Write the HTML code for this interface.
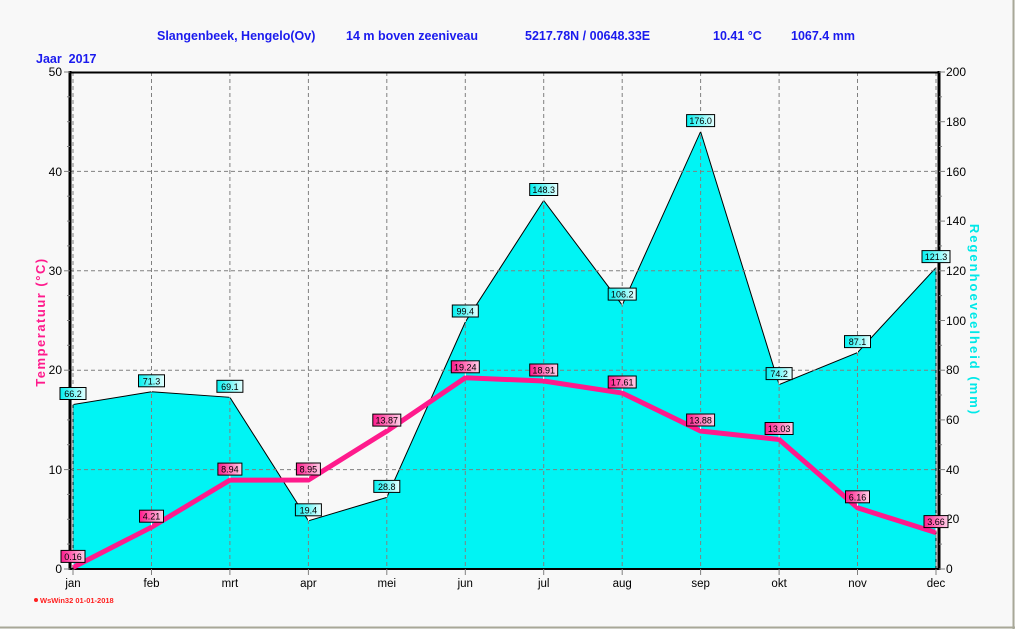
<!DOCTYPE html>
<html><head><meta charset="utf-8"><style>
html,body{margin:0;padding:0;background:#f8f8f8;}
svg{display:block;font-family:"Liberation Sans",Arial,sans-serif;}
</style></head><body>
<svg width="1015" height="629" viewBox="0 0 1015 629" xmlns="http://www.w3.org/2000/svg">
<defs>
<linearGradient id="gc" x1="0" x2="1"><stop offset="0" stop-color="#00f0f0"/><stop offset="1" stop-color="#e8ffff"/></linearGradient>
<linearGradient id="gp" x1="0" x2="1"><stop offset="0" stop-color="#ff1a8c"/><stop offset="1" stop-color="#ffd0e8"/></linearGradient>
</defs>
<rect x="0" y="0" width="1015" height="629" fill="#f8f8f8"/>
<line x1="0" y1="627.5" x2="1015" y2="627.5" stroke="#a8a898" stroke-width="2"/>
<line x1="1013.5" y1="0" x2="1013.5" y2="629" stroke="#a8a898" stroke-width="2"/>

<g fill="#1a1aee" font-weight="bold" font-size="12.5">
<text x="157" y="40">Slangenbeek, Hengelo(Ov)</text>
<text x="346" y="40">14 m boven zeeniveau</text>
<text x="525" y="40">5217.78N / 00648.33E</text>
<text x="713" y="40">10.41 °C</text>
<text x="791" y="40">1067.4 mm</text>
<text x="36" y="63" xml:space="preserve">Jaar  2017</text>
</g>

<polygon fill="#00f4f4" stroke="#000" stroke-width="1" points="73,569 73,404.5 151.5,391.8 229.9,397.3 308.4,520.8 386.8,497.4 465.3,322 543.7,200.5 622.2,305.1 700.6,131.6 779.1,384.6 857.5,352.6 936,267.6 936,569"/>

<g stroke="#808080" stroke-width="1" stroke-dasharray="4,3">
<line x1="73" y1="72" x2="73" y2="569"/><line x1="151.5" y1="72" x2="151.5" y2="569"/><line x1="229.9" y1="72" x2="229.9" y2="569"/><line x1="308.4" y1="72" x2="308.4" y2="569"/><line x1="386.8" y1="72" x2="386.8" y2="569"/><line x1="465.3" y1="72" x2="465.3" y2="569"/><line x1="543.7" y1="72" x2="543.7" y2="569"/><line x1="622.2" y1="72" x2="622.2" y2="569"/><line x1="700.6" y1="72" x2="700.6" y2="569"/><line x1="779.1" y1="72" x2="779.1" y2="569"/><line x1="857.5" y1="72" x2="857.5" y2="569"/><line x1="936" y1="72" x2="936" y2="569"/>
<line x1="70" y1="171.4" x2="939" y2="171.4"/><line x1="70" y1="270.8" x2="939" y2="270.8"/><line x1="70" y1="370.2" x2="939" y2="370.2"/><line x1="70" y1="469.6" x2="939" y2="469.6"/>
</g>
<line x1="69" y1="72.5" x2="940" y2="72.5" stroke="#000" stroke-width="2"/>
<line x1="69" y1="569" x2="940" y2="569" stroke="#000" stroke-width="2"/>
<line x1="70" y1="71" x2="70" y2="570" stroke="#000" stroke-width="3"/>
<line x1="939" y1="71" x2="939" y2="570" stroke="#000" stroke-width="3"/>

<g stroke="#808080" stroke-width="1">
<line x1="64" y1="72" x2="70" y2="72"/><line x1="64" y1="171.4" x2="70" y2="171.4"/><line x1="64" y1="270.8" x2="70" y2="270.8"/><line x1="64" y1="370.2" x2="70" y2="370.2"/><line x1="64" y1="469.6" x2="70" y2="469.6"/><line x1="64" y1="569" x2="70" y2="569"/>
<line x1="67" y1="96.8" x2="70" y2="96.8"/><line x1="67" y1="121.7" x2="70" y2="121.7"/><line x1="67" y1="146.5" x2="70" y2="146.5"/>
<line x1="67" y1="196.2" x2="70" y2="196.2"/><line x1="67" y1="221.1" x2="70" y2="221.1"/><line x1="67" y1="245.9" x2="70" y2="245.9"/>
<line x1="67" y1="295.6" x2="70" y2="295.6"/><line x1="67" y1="320.5" x2="70" y2="320.5"/><line x1="67" y1="345.3" x2="70" y2="345.3"/>
<line x1="67" y1="395" x2="70" y2="395"/><line x1="67" y1="419.9" x2="70" y2="419.9"/><line x1="67" y1="444.7" x2="70" y2="444.7"/>
<line x1="67" y1="494.4" x2="70" y2="494.4"/><line x1="67" y1="519.3" x2="70" y2="519.3"/><line x1="67" y1="544.1" x2="70" y2="544.1"/>
<line x1="939" y1="72" x2="945" y2="72"/><line x1="939" y1="121.7" x2="945" y2="121.7"/><line x1="939" y1="171.4" x2="945" y2="171.4"/><line x1="939" y1="221.1" x2="945" y2="221.1"/><line x1="939" y1="270.8" x2="945" y2="270.8"/><line x1="939" y1="320.5" x2="945" y2="320.5"/><line x1="939" y1="370.2" x2="945" y2="370.2"/><line x1="939" y1="419.9" x2="945" y2="419.9"/><line x1="939" y1="469.6" x2="945" y2="469.6"/><line x1="939" y1="519.3" x2="945" y2="519.3"/><line x1="939" y1="569" x2="945" y2="569"/>
<line x1="939" y1="96.8" x2="942" y2="96.8"/><line x1="939" y1="146.5" x2="942" y2="146.5"/><line x1="939" y1="196.2" x2="942" y2="196.2"/><line x1="939" y1="245.9" x2="942" y2="245.9"/><line x1="939" y1="295.6" x2="942" y2="295.6"/><line x1="939" y1="345.3" x2="942" y2="345.3"/><line x1="939" y1="395" x2="942" y2="395"/><line x1="939" y1="444.7" x2="942" y2="444.7"/><line x1="939" y1="494.4" x2="942" y2="494.4"/><line x1="939" y1="544.1" x2="942" y2="544.1"/>
<line x1="73" y1="569" x2="73" y2="575"/><line x1="151.5" y1="569" x2="151.5" y2="575"/><line x1="229.9" y1="569" x2="229.9" y2="575"/><line x1="308.4" y1="569" x2="308.4" y2="575"/><line x1="386.8" y1="569" x2="386.8" y2="575"/><line x1="465.3" y1="569" x2="465.3" y2="575"/><line x1="543.7" y1="569" x2="543.7" y2="575"/><line x1="622.2" y1="569" x2="622.2" y2="575"/><line x1="700.6" y1="569" x2="700.6" y2="575"/><line x1="779.1" y1="569" x2="779.1" y2="575"/><line x1="857.5" y1="569" x2="857.5" y2="575"/><line x1="936" y1="569" x2="936" y2="575"/>
</g>

<g font-size="12" fill="#000" text-anchor="end">
<text x="62" y="76">50</text><text x="62" y="176">40</text><text x="62" y="275">30</text><text x="62" y="374">20</text><text x="62" y="474">10</text><text x="62" y="573">0</text>
</g>
<g font-size="12" fill="#000">
<text x="946" y="76">200</text><text x="946" y="126">180</text><text x="946" y="176">160</text><text x="946" y="225">140</text><text x="946" y="275">120</text><text x="946" y="325">100</text><text x="946" y="374">80</text><text x="946" y="424">60</text><text x="946" y="474">40</text><text x="946" y="523">20</text><text x="946" y="573">0</text>
</g>
<g font-size="11.5" fill="#000" text-anchor="middle">
<text x="73" y="587">jan</text><text x="151.5" y="587">feb</text><text x="229.9" y="587">mrt</text><text x="308.4" y="587">apr</text><text x="386.8" y="587">mei</text><text x="465.3" y="587">jun</text><text x="543.7" y="587">jul</text><text x="622.2" y="587">aug</text><text x="700.6" y="587">sep</text><text x="779.1" y="587">okt</text><text x="857.5" y="587">nov</text><text x="936" y="587">dec</text>
</g>

<text transform="translate(45,322) rotate(-90)" text-anchor="middle" font-size="13" font-weight="bold" fill="#ff1a8c" letter-spacing="1.5">Temperatuur  (°C)</text>
<text transform="translate(970,320) rotate(90)" text-anchor="middle" font-size="13" font-weight="bold" fill="#00e8e8" letter-spacing="2">Regenhoeveelheid  (mm)</text>

<circle cx="36" cy="600" r="2" fill="#ff2020"/>
<text x="40" y="603" font-size="7.5" fill="#ff2020" font-weight="bold">WsWin32  01-01-2018</text>

<polyline fill="none" stroke="#ff1a8c" stroke-width="5" stroke-linejoin="miter" points="73,567.4 151.5,527.2 229.9,480.1 308.4,480 386.8,431.1 465.3,377.8 543.7,381 622.2,393 700.6,431 779.1,439.5 857.5,507.8 936,532.6"/>

<g font-size="9" text-anchor="middle" fill="#000">
<g transform="translate(73,404.5)"><line x1="0" y1="-6" x2="0" y2="0" stroke="#fff"/><rect x="-13" y="-17" width="26" height="12" fill="url(#gc)" stroke="#000"/><text x="0" y="-7.5">66.2</text></g>
<g transform="translate(151.5,391.8)"><line x1="0" y1="-6" x2="0" y2="0" stroke="#fff"/><rect x="-13" y="-17" width="26" height="12" fill="url(#gc)" stroke="#000"/><text x="0" y="-7.5">71.3</text></g>
<g transform="translate(229.9,397.3)"><line x1="0" y1="-6" x2="0" y2="0" stroke="#fff"/><rect x="-13" y="-17" width="26" height="12" fill="url(#gc)" stroke="#000"/><text x="0" y="-7.5">69.1</text></g>
<g transform="translate(308.4,520.8)"><line x1="0" y1="-6" x2="0" y2="0" stroke="#fff"/><rect x="-13" y="-17" width="26" height="12" fill="url(#gc)" stroke="#000"/><text x="0" y="-7.5">19.4</text></g>
<g transform="translate(386.8,497.4)"><line x1="0" y1="-6" x2="0" y2="0" stroke="#fff"/><rect x="-13" y="-17" width="26" height="12" fill="url(#gc)" stroke="#000"/><text x="0" y="-7.5">28.8</text></g>
<g transform="translate(465.3,322)"><line x1="0" y1="-6" x2="0" y2="0" stroke="#fff"/><rect x="-13" y="-17" width="26" height="12" fill="url(#gc)" stroke="#000"/><text x="0" y="-7.5">99.4</text></g>
<g transform="translate(543.7,200.5)"><line x1="0" y1="-6" x2="0" y2="0" stroke="#fff"/><rect x="-14" y="-17" width="28" height="12" fill="url(#gc)" stroke="#000"/><text x="0" y="-7.5">148.3</text></g>
<g transform="translate(622.2,305.1)"><line x1="0" y1="-6" x2="0" y2="0" stroke="#fff"/><rect x="-14" y="-17" width="28" height="12" fill="url(#gc)" stroke="#000"/><text x="0" y="-7.5">106.2</text></g>
<g transform="translate(700.6,131.6)"><line x1="0" y1="-6" x2="0" y2="0" stroke="#fff"/><rect x="-14" y="-17" width="28" height="12" fill="url(#gc)" stroke="#000"/><text x="0" y="-7.5">176.0</text></g>
<g transform="translate(779.1,384.6)"><line x1="0" y1="-6" x2="0" y2="0" stroke="#fff"/><rect x="-13" y="-17" width="26" height="12" fill="url(#gc)" stroke="#000"/><text x="0" y="-7.5">74.2</text></g>
<g transform="translate(857.5,352.6)"><line x1="0" y1="-6" x2="0" y2="0" stroke="#fff"/><rect x="-13" y="-17" width="26" height="12" fill="url(#gc)" stroke="#000"/><text x="0" y="-7.5">87.1</text></g>
<g transform="translate(936,267.6)"><line x1="0" y1="-6" x2="0" y2="0" stroke="#fff"/><rect x="-14" y="-17" width="28" height="12" fill="url(#gc)" stroke="#000"/><text x="0" y="-7.5">121.3</text></g>
</g>

<g font-size="9" text-anchor="middle" fill="#000">
<g transform="translate(73,567.4)"><line x1="0" y1="-6" x2="0" y2="-2" stroke="#fff"/><rect x="-12" y="-17" width="24" height="12" fill="url(#gp)" stroke="#000"/><text x="0" y="-7.5">0.16</text></g>
<g transform="translate(151.5,527.2)"><line x1="0" y1="-6" x2="0" y2="-2" stroke="#fff"/><rect x="-12" y="-17" width="24" height="12" fill="url(#gp)" stroke="#000"/><text x="0" y="-7.5">4.21</text></g>
<g transform="translate(229.9,480.1)"><line x1="0" y1="-6" x2="0" y2="-2" stroke="#fff"/><rect x="-12" y="-17" width="24" height="12" fill="url(#gp)" stroke="#000"/><text x="0" y="-7.5">8.94</text></g>
<g transform="translate(308.4,480)"><line x1="0" y1="-6" x2="0" y2="-2" stroke="#fff"/><rect x="-12" y="-17" width="24" height="12" fill="url(#gp)" stroke="#000"/><text x="0" y="-7.5">8.95</text></g>
<g transform="translate(386.8,431.1)"><line x1="0" y1="-6" x2="0" y2="-2" stroke="#fff"/><rect x="-14" y="-17" width="28" height="12" fill="url(#gp)" stroke="#000"/><text x="0" y="-7.5">13.87</text></g>
<g transform="translate(465.3,377.8)"><line x1="0" y1="-6" x2="0" y2="-2" stroke="#fff"/><rect x="-14" y="-17" width="28" height="12" fill="url(#gp)" stroke="#000"/><text x="0" y="-7.5">19.24</text></g>
<g transform="translate(543.7,381)"><line x1="0" y1="-6" x2="0" y2="-2" stroke="#fff"/><rect x="-14" y="-17" width="28" height="12" fill="url(#gp)" stroke="#000"/><text x="0" y="-7.5">18.91</text></g>
<g transform="translate(622.2,393)"><line x1="0" y1="-6" x2="0" y2="-2" stroke="#fff"/><rect x="-14" y="-17" width="28" height="12" fill="url(#gp)" stroke="#000"/><text x="0" y="-7.5">17.61</text></g>
<g transform="translate(700.6,431)"><line x1="0" y1="-6" x2="0" y2="-2" stroke="#fff"/><rect x="-14" y="-17" width="28" height="12" fill="url(#gp)" stroke="#000"/><text x="0" y="-7.5">13.88</text></g>
<g transform="translate(779.1,439.5)"><line x1="0" y1="-6" x2="0" y2="-2" stroke="#fff"/><rect x="-14" y="-17" width="28" height="12" fill="url(#gp)" stroke="#000"/><text x="0" y="-7.5">13.03</text></g>
<g transform="translate(857.5,507.8)"><line x1="0" y1="-6" x2="0" y2="-2" stroke="#fff"/><rect x="-12" y="-17" width="24" height="12" fill="url(#gp)" stroke="#000"/><text x="0" y="-7.5">6.16</text></g>
<g transform="translate(936,532.6)"><line x1="0" y1="-6" x2="0" y2="-2" stroke="#fff"/><rect x="-12" y="-17" width="24" height="12" fill="url(#gp)" stroke="#000"/><text x="0" y="-7.5">3.66</text></g>
</g>
</svg>
</body></html>
